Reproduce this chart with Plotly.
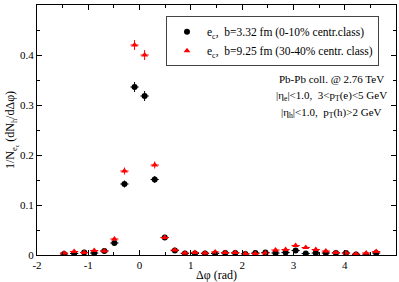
import plotly.graph_objects as go

dphi = [-1.473, -1.276, -1.080, -0.884, -0.687, -0.491, -0.295, -0.098,
        0.098, 0.295, 0.491, 0.687, 0.884, 1.080, 1.276, 1.473,
        1.669, 1.865, 2.062, 2.258, 2.454, 2.651, 2.847, 3.043,
        3.240, 3.436, 3.632, 3.829, 4.025, 4.221, 4.418, 4.614]

central = [0.002, 0.003, 0.005, 0.004, 0.008, 0.024, 0.142, 0.336,
           0.318, 0.151, 0.035, 0.009, 0.003, 0.003, 0.003, 0.003,
           0.004, 0.004, 0.002, 0.004, 0.005, 0.004, 0.005, 0.009,
           0.003, 0.004, 0.004, 0.004, 0.004, 0.001, 0.000, 0.004]
central_err = [0.003, 0.003, 0.003, 0.003, 0.003, 0.004, 0.007, 0.010,
               0.010, 0.007, 0.004, 0.003, 0.003, 0.003, 0.003, 0.003,
               0.003, 0.003, 0.003, 0.003, 0.003, 0.003, 0.003, 0.003,
               0.003, 0.003, 0.003, 0.003, 0.003, 0.003, 0.003, 0.003]

semi = [0.004, 0.007, 0.005, 0.009, 0.008, 0.032, 0.168, 0.420,
        0.400, 0.180, 0.035, 0.010, 0.004, 0.005, 0.004, 0.006,
        0.005, 0.005, 0.003, 0.003, 0.004, 0.010, 0.011, 0.019,
        0.015, 0.011, 0.008, 0.005, 0.004, 0.002, 0.004, 0.007]
semi_err = [0.003, 0.003, 0.003, 0.003, 0.003, 0.004, 0.007, 0.010,
            0.010, 0.007, 0.004, 0.003, 0.003, 0.003, 0.003, 0.003,
            0.003, 0.003, 0.003, 0.003, 0.003, 0.003, 0.003, 0.003,
            0.003, 0.003, 0.003, 0.003, 0.003, 0.003, 0.003, 0.003]

y_tickvals = [0, 0.1, 0.2, 0.3, 0.4, 0.5]
y_ticktext = ["0", "0.1", "0.2", "0.3", "0.4", "0.5"]
x_tickvals = [-2, -1, 0, 1, 2, 3, 4, 5]
x_ticktext = ["-2", "-1", "0", "1", "2", "3", "4", "5"]

x_half = 0.08
font_family = "Liberation Serif, Times New Roman, serif"

fig = go.Figure()
fig.add_trace(go.Scatter(
    x=dphi, y=central, mode="markers",
    name="e<sub>c</sub>,  b=3.32 fm (0-10% centr.class)",
    marker=dict(symbol="circle", size=6, color="black"),
    error_y=dict(type="data", array=central_err, color="black", thickness=1, width=0),
    error_x=dict(type="constant", value=x_half, color="black", thickness=1, width=0),
))
fig.add_trace(go.Scatter(
    x=dphi, y=semi, mode="markers",
    name="e<sub>c</sub>,  b=9.25 fm (30-40% centr. class)",
    marker=dict(symbol="triangle-up", size=6, color="red"),
    error_y=dict(type="data", array=semi_err, color="red", thickness=1, width=0),
    error_x=dict(type="constant", value=x_half, color="red", thickness=1, width=0),
))

axis_common = dict(
    showgrid=False, zeroline=False, showline=True, linecolor="black", linewidth=1,
    mirror="ticks", ticks="inside", ticklen=5, tickcolor="black", automargin=False,
    tickfont=dict(family=font_family, size=11, color="black"),
)

fig.update_xaxes(range=[-2, 5], tickvals=x_tickvals, ticktext=x_ticktext,
                 minor=dict(dtick=0.5, ticks="inside", ticklen=3, tickcolor="black"),
                 title=dict(text="Δφ (rad)", font=dict(family=font_family, size=12, color="black"), standoff=2),
                 **axis_common)
fig.update_yaxes(range=[0, 0.5], tickvals=y_tickvals, ticktext=y_ticktext,
                 minor=dict(dtick=0.05, ticks="inside", ticklen=3, tickcolor="black"),
                 title=dict(text="1/N<sub>e<sub>c</sub></sub> (dN<sub>h</sub>/dΔφ)",
                            font=dict(family=font_family, size=12, color="black"), standoff=2),
                 **axis_common)

ann_font = dict(family=font_family, size=11, color="black")
texts = ["Pb-Pb coll. @ 2.76 TeV",
         "|η<sub>e</sub>|<1.0,  3<p<sub>T</sub>(e)<5 GeV",
         "|η<sub>h</sub>|<1.0,  p<sub>T</sub>(h)>2 GeV"]
ypos = [0.352, 0.318, 0.284]
for t, yv in zip(texts, ypos):
    fig.add_annotation(x=0.82, y=yv / 0.5, xref="paper", yref="paper", text=t, showarrow=False,
                       font=ann_font, xanchor="center", yanchor="middle")

plot_l, plot_w = 37, 359

fig.update_layout(
    width=399, height=282,
    margin=dict(l=37, r=3, t=5, b=27),
    paper_bgcolor="white", plot_bgcolor="white",
    font=dict(family=font_family, size=11, color="black"),
    legend=dict(x=(166 - plot_l) / plot_w, y=0.955, xanchor="left", yanchor="top",
                bordercolor="#444444", borderwidth=1, bgcolor="white",
                font=dict(family=font_family, size=11.5, color="black"),
                tracegroupgap=0, itemwidth=30),
    showlegend=True,
)

fig.write_html("out.html", config={"displayModeBar": False},
               post_script="document.body.style.margin='0';document.body.style.overflow='hidden';")
